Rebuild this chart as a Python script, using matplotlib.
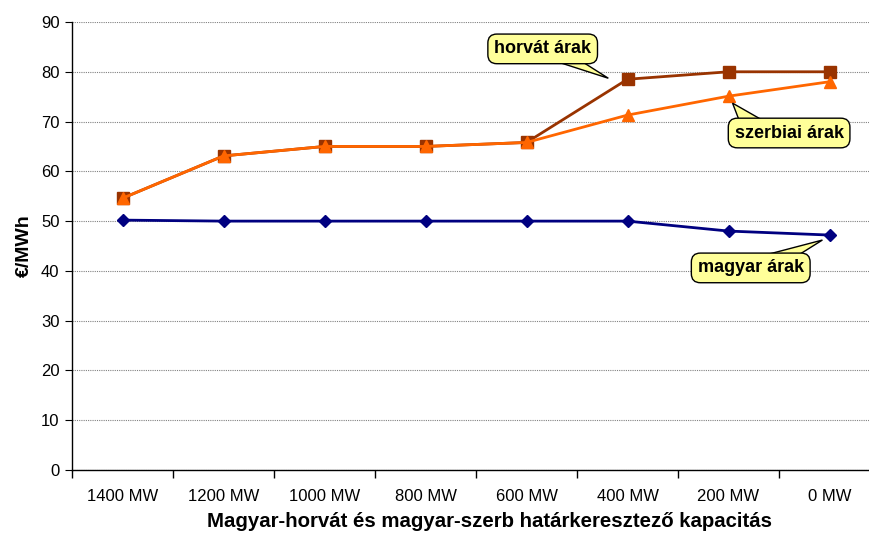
import matplotlib.pyplot as plt
from matplotlib.patches import Polygon

plt.rcParams['font.family'] = ['Liberation Sans', 'DejaVu Sans']

capacities = ["1400 MW", "1200 MW", "1000 MW", "800 MW", "600 MW", "400 MW", "200 MW", "0 MW"]
horvat = [54.6, 63.1, 65.0, 65.0, 65.8, 78.5, 80.0, 80.0]
szerb = [54.6, 63.1, 65.0, 65.0, 65.8, 71.3, 75.1, 78.0]
magyar = [50.2, 50.0, 50.0, 50.0, 50.0, 50.0, 48.0, 47.2]

fig = plt.figure(figsize=(8.7, 5.38), dpi=100)
ax = fig.add_axes([0.0828, 0.1264, 0.9287, 0.8327])

x = range(len(capacities))
ax.plot(x, horvat, color="#993300", lw=2, marker="s", ms=8, mfc="#993300", mec="#993300", zorder=3)
ax.plot(x, szerb, color="#FF6600", lw=2, marker="^", ms=9, mfc="#FF6600", mec="#FF6600", zorder=4)
ax.plot(x, magyar, color="#000080", lw=2, marker="D", ms=6, mfc="#000080", mec="#000080", zorder=3)

ax.set_xlim(-0.5, len(capacities) - 0.5)
ax.set_ylim(0, 90)
ax.set_yticks(range(0, 91, 10))
ax.set_xticks(x)
ax.set_xticklabels(capacities)
ax.set_xticks([i + 0.5 for i in range(-1, len(capacities))], minor=True)
ax.tick_params(axis="x", which="major", length=0, pad=14, labelsize=12)
ax.tick_params(axis="x", which="minor", length=6, direction="out", width=1)
ax.tick_params(axis="y", length=5, direction="out", labelsize=12, pad=4)

ax.grid(axis="y", color="#808080", ls=(0, (1, 1)), lw=0.8)
ax.set_axisbelow(True)
for side in ("top", "right"):
    ax.spines[side].set_visible(False)
ax.spines["left"].set_linewidth(1)
ax.spines["bottom"].set_linewidth(1)

ax.set_ylabel("€/MWh", fontsize=14, fontweight="bold", labelpad=6)
ax.set_xlabel("Magyar-horvát és magyar-szerb határkeresztező kapacitás",
              fontsize=14.7, fontweight="bold")
ax.xaxis.set_label_coords(0.517, -0.094)


def callout(label, center, tip, base_x, base_y):
    # yellow speech bubble: pointer triangle under a rounded text box
    ax.add_patch(Polygon([(base_x[0], base_y), (base_x[1], base_y), tip], closed=True,
                         fc="#FFFF99", ec="black", lw=1, zorder=5))
    ax.text(center[0], center[1], label, fontsize=13, fontweight="bold", ha="center", va="center",
            zorder=6, bbox=dict(boxstyle="round,pad=0.35,rounding_size=0.5",
                                fc="#FFFF99", ec="black", lw=1))


callout("horvát árak", (4.16, 84.6), (4.81, 78.7), (4.26, 4.53), 82.3)
callout("szerbiai árak", (6.6, 67.7), (6.04, 73.7), (6.11, 6.36), 70.0)
callout("magyar árak", (6.22, 40.6), (6.93, 46.2), (6.31, 6.67), 42.9)

fig.savefig("out.png", dpi=100)
